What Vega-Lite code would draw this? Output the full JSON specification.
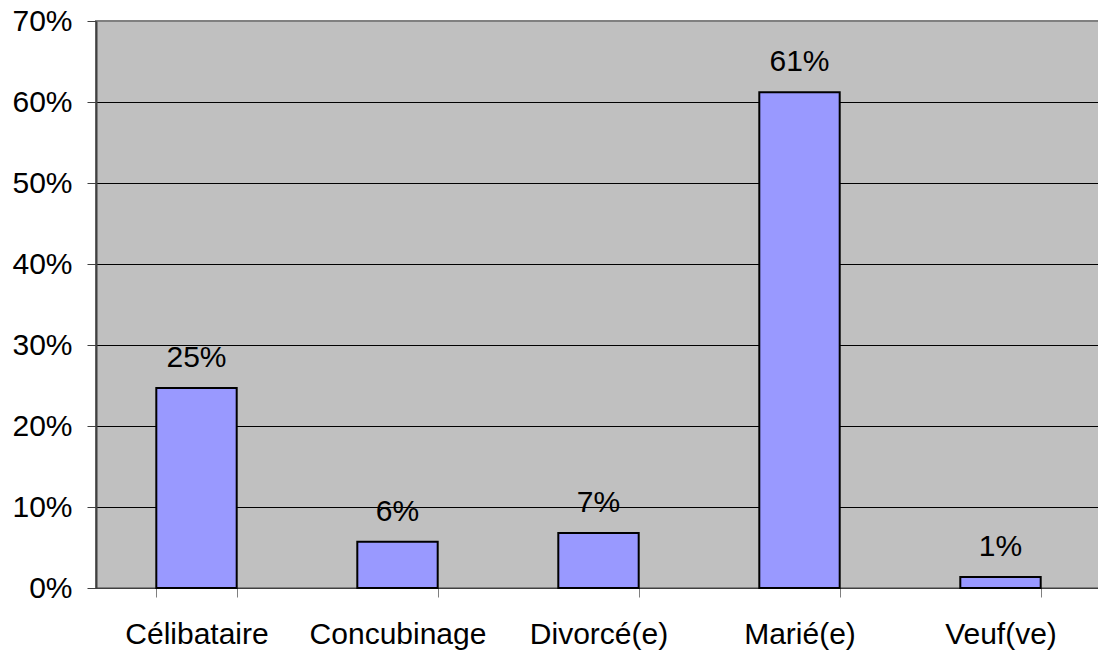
{
  "$schema": "https://vega.github.io/schema/vega-lite/v6.json",
  "width": 1005,
  "height": 567,
  "autosize": {"type": "none"},
  "padding": {"left": 96, "top": 21, "right": 0, "bottom": 65},
  "background": "white",
  "config": {
    "view": {"fill": "#C0C0C0", "stroke": "#808080", "strokeWidth": 2},
    "font": "Liberation Sans",
    "axis": {"labelFont": "Liberation Sans", "labelFontSize": 30, "labelColor": "black", "title": null}
  },
  "data": {
    "values": [
      {"statut": "Célibataire", "pct": 0.247},
      {"statut": "Concubinage", "pct": 0.057},
      {"statut": "Divorcé(e)", "pct": 0.068},
      {"statut": "Marié(e)", "pct": 0.612},
      {"statut": "Veuf(ve)", "pct": 0.0136}
    ]
  },
  "encoding": {
    "x": {
      "field": "statut",
      "type": "nominal",
      "sort": null,
      "scale": {"paddingInner": 0.6, "paddingOuter": 0.3},
      "axis": {
        "labelAngle": 0,
        "tickBand": "extent",
        "tickSize": 9,
        "tickColor": "#808080",
        "domainColor": "#404040",
        "domainWidth": 1,
        "labelPadding": 22,
        "labelBaseline": "top",
        "grid": false
      }
    },
    "y": {
      "field": "pct",
      "type": "quantitative",
      "scale": {"domain": [0, 0.7], "nice": false},
      "axis": {
        "values": [0, 0.1, 0.2, 0.3, 0.4, 0.5, 0.6, 0.7],
        "format": ".0%",
        "tickSize": 9,
        "tickColor": "#404040",
        "domainColor": "#404040",
        "domainWidth": 2,
        "labelPadding": 15,
        "grid": true,
        "gridColor": {"condition": {"test": "datum.value >= 0.69", "value": "#808080"}, "value": "black"},
        "gridOpacity": 1,
        "gridWidth": 1
      }
    }
  },
  "layer": [
    {"mark": {"type": "bar", "fill": "#9999FF", "stroke": "black", "strokeWidth": 2}},
    {
      "mark": {"type": "text", "fontSize": 30, "font": "Liberation Sans", "color": "black", "baseline": "alphabetic", "dy": -21},
      "encoding": {"text": {"field": "pct", "type": "quantitative", "format": ".0%"}}
    }
  ]
}
